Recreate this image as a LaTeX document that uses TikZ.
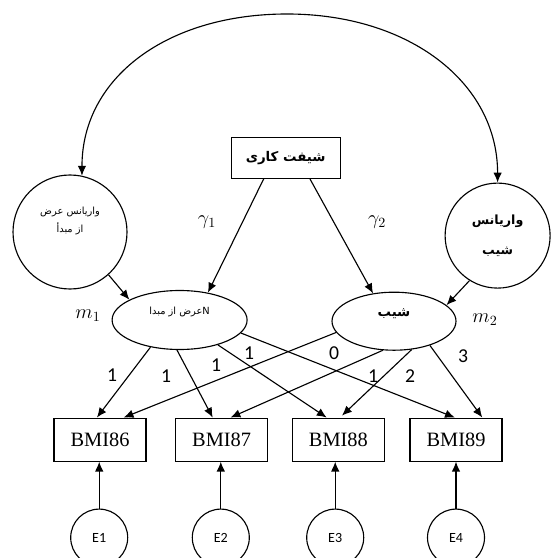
\documentclass[tikz,border=0pt]{standalone}
\usepackage{fontspec}
\setmainfont{Liberation Serif}
\newfontfamily\arabicfont[Script=Arabic]{DejaVu Sans}
\newfontfamily\calfont{Carlito}
\TeXXeTstate=1
\usetikzlibrary{arrows.meta}
\usetikzlibrary{shapes.geometric}

\begin{document}
\begin{tikzpicture}[>={Latex[length=7pt,width=6pt]}, thick,
    latent/.style={draw=black, circle, inner sep=0pt},
    lat/.style={draw=black, ellipse, inner sep=0pt},
    obs/.style={draw=black, rectangle, minimum width=2.3cm, minimum height=1.075cm,
      font=\fontsize{14.5}{17}\selectfont},
    err/.style={draw=black, circle, minimum size=1.425cm, inner sep=0pt,
      font=\calfont\fontsize{10}{12}\selectfont},
    load/.style={font=\calfont\fontsize{14}{16}\selectfont},
    par/.style={font=\fontsize{14}{16}\selectfont}]
      \useasboundingbox (0,0) rectangle (13.775,-13.95);

      % variances and predictor
      \node [latent, minimum size=2.85cm, align=center, text depth=0.6cm,
        font=\arabicfont\fontsize{7}{13}\selectfont, name=vi] at (1.75,-5.8)
      {\beginR واریانس عرض\endR\\ \beginR از مبدأ\endR};
      \node [latent, minimum size=2.625cm, align=center,
        font=\arabicfont\bfseries\fontsize{9}{21}\selectfont, name=vs] at (12.44,-5.89)
      {\beginR واریانس\endR\\ \beginR شیب\endR};
      \node [draw=black, minimum width=2.725cm, minimum height=1.025cm,
        font=\arabicfont\bfseries\fontsize{9.5}{12}\selectfont, name=sk] at (7.14,-3.94)
      {\beginR شیفت کاری\endR};

      % growth factors
      \node [lat, minimum width=3.375cm, minimum height=1.475cm, text depth=0.44cm,
        font=\arabicfont\fontsize{7}{9}\selectfont, name=ia] at (4.49,-8.0)
      {\beginR\beginL N\endL عرض از مبدا\endR};
      \node [lat, minimum width=3.1cm, minimum height=1.45cm, text depth=0.44cm,
        font=\arabicfont\bfseries\fontsize{9.5}{12}\selectfont, name=sl] at (9.85,-8.03)
      {\beginR شیب\endR\hspace{0.5cm}};

      % measures
      \node [obs, name=b86] at (2.5,-10.99) {BMI86};
      \node [obs, name=b87] at (5.54,-10.99) {BMI87};
      \node [obs, name=b88] at (8.46,-10.99) {BMI88};
      \node [obs, name=b89] at (11.4,-10.99) {BMI89};

      \node [err, name=e1] at (2.48,-13.44) {E1};
      \node [err, name=e2] at (5.52,-13.44) {E2};
      \node [err, name=e3] at (8.38,-13.44) {E3};
      \node [err, name=e4] at (11.4,-13.44) {E4};

      \coordinate (apex) at (7.175,-0.35);

      % labels
      \node [par] at (5.175,-5.55) {$\gamma_1$};
      \node [par] at (9.425,-5.55) {$\gamma_2$};
      \node [par] at (2.2,-7.9) {$m_1$};
      \node [par] at (12.125,-8.0) {$m_2$};

      \node [load] at (2.8,-9.375) {1};
      \node [load] at (4.15,-9.4) {1};
      \node [load] at (5.4,-9.125) {1};
      \node [load] at (6.225,-8.825) {1};
      \node [load] at (8.35,-8.825) {0};
      \node [load] at (9.325,-9.4) {1};
      \node [load] at (10.25,-9.4) {2};
      \node [load] at (11.575,-8.9) {3};

      \draw [<->] (vi.78) .. controls +(0,2.45) and +(-3.0,0) .. (apex)
        .. controls +(3.05,0) and +(0,2.5) .. (vs.90);

      \draw [->] (sk.224) -- (ia.44);
      \draw [->] (sk.319) -- (sl.127);
      \draw [->] (vi.312) -- (ia.158);
      \draw [->] (vs.238) -- (sl.17);

      \draw [->] (ia.223) -- (b86.98);
      \draw [->] (ia.265) -- (b87.112);
      \draw [->] (ia.327) -- (b88.118);
      \draw [->] (ia.348) -- (b89.93);

      \draw [->] (sl.191) -- (b86.43);
      \draw [->] (sl.249) -- (b87.68);
      \draw [->, shorten >=2pt] (sl.302) -- (b88.86);
      \draw [->] (sl.326) -- (b89.40);

      \draw [->] (e1) -- (e1 |- b86.south);
      \draw [->] (e2) -- (e2 |- b87.south);
      \draw [->] (e3) -- (e3 |- b88.south);
      \draw [->] (e4) -- (e4 |- b89.south);
    \end{tikzpicture}
\end{document}
